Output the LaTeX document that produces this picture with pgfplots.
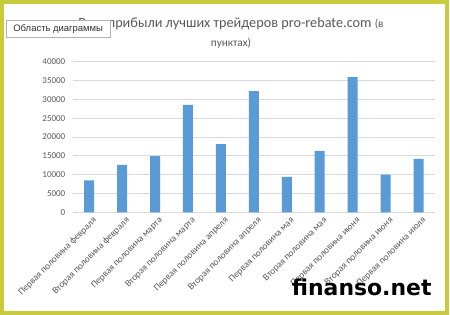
\documentclass[border=0pt]{standalone}
\usepackage{pgfplots}
\pgfplotsset{compat=1.18}
\usepackage{fontspec}
\setmainfont{Carlito}
\newfontfamily\tipfont{Liberation Sans}
\newfontfamily\wmfont{DejaVu Sans}
\definecolor{barblue}{HTML}{5B9BD5}
\definecolor{txtgray}{HTML}{595959}
\definecolor{gridgray}{HTML}{D9D9D9}
\definecolor{framecol}{HTML}{C8CB3C}
\begin{document}
\begin{tikzpicture}
\useasboundingbox (0bp,0bp) rectangle (450bp,315bp);
\fill[white] (0bp,0bp) rectangle (450bp,315bp);
\begin{axis}[
  at={(72.7bp,102.7bp)}, anchor=south west,
  scale only axis, width=362.3bp, height=150.6bp,
  ymin=0, ymax=40000, ytick={0,5000,...,40000},
  scaled y ticks=false,
  /pgf/number format/1000 sep={},
  /pgf/number format/assume math mode=true,
  xmin=-0.5, xmax=10.5, xtick=data,
  xticklabels={Первая половина февраля,Вторая половина февраля,Первая половина марта,Вторая половина марта,Первая половина апреля,Вторая половина апреля,Первая половина мая,Вторая половина мая,Первая половина июня,Вторая половина июня,Первая половина июля},
  xticklabel style={rotate=45, anchor=east, yshift=-9bp, xshift=3bp, font=\fontsize{9.5}{11}\selectfont, text=txtgray},
  yticklabel style={font=\fontsize{9}{10}\selectfont, text=txtgray, xshift=-4bp},
  ymajorgrids, grid style={gridgray, line width=0.7bp},
  axis line style={draw=none},
  major tick length=0pt,
  ybar, bar width=10bp,
]
\addplot[fill=barblue, draw=none] coordinates {
(0,8500) (1,12600) (2,14900) (3,28500) (4,18100) (5,32200)
(6,9400) (7,16300) (8,35900) (9,10000) (10,14200)};
\end{axis}
\node[anchor=base, text=txtgray, font=\fontsize{14.3}{16}\selectfont] at (231bp,287bp) {Рост прибыли лучших трейдеров pro-rebate.com {\fontsize{11.3}{13}\selectfont(в}};
\node[anchor=base, text=txtgray, font=\fontsize{11.3}{13}\selectfont] at (231bp,268bp) {пунктах)};
\node[draw=gray!60, fill=white, inner xsep=3bp, inner ysep=0bp, minimum height=17bp, minimum width=104bp, text=black!80, anchor=north west, font=\tipfont\fontsize{9.5}{11}\selectfont] at (6bp,295bp) {Область диаграммы};
\node[anchor=base east, font=\wmfont\bfseries\fontsize{22}{24}\selectfont] at (435bp,20bp) {finanso.net};
\draw[framecol, line width=4bp] (2bp,2bp) rectangle (447bp,313bp);
\end{tikzpicture}
\end{document}
